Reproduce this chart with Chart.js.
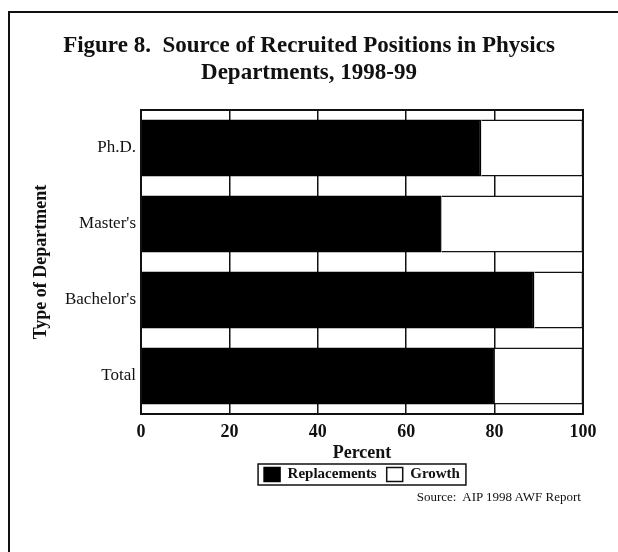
<!DOCTYPE html>
<html>
<head>
<meta charset="utf-8">
<script src="https://cdn.jsdelivr.net/npm/chart.js@4"></script>
<style>
    html, body { margin: 0; padding: 0; background: #fff; }
    #wrap { position: relative; width: 618px; height: 552px; overflow: hidden; }
    #frame {
        position: absolute; left: 8px; top: 11px; width: 640px; height: 600px;
        border-left: 2px solid #111; border-top: 2px solid #111;
    }
    #chart-box { position: absolute; left: 0; top: 0; width: 618px; height: 552px; }
    #source {
        position: absolute; right: 37px; top: 489px;
        font: 13px "Liberation Serif", serif; color: #111; white-space: pre;
    }
</style>
</head>
<body>
<div id="wrap">
    <div id="frame"></div>
    <div id="chart-box"><canvas id="chart"></canvas></div>
    <div id="source">Source:  AIP 1998 AWF Report</div>
</div>
<script>
const categories = ["Ph.D.", "Master's", "Bachelor's", "Total"];
const replacements = [77, 68, 89, 80];
const growth = [23, 32, 11, 20];
const xTicks = [0, 20, 40, 60, 80, 100];

// plot frame: top and right edges (Chart.js only draws the axis borders)
const frameBox = {
    id: 'frameBox',
    afterDatasetsDraw(chart) {
        const { ctx, chartArea: a } = chart;
        ctx.save();
        ctx.strokeStyle = '#111';
        ctx.lineWidth = 2;
        ctx.strokeRect(a.left, a.top, a.right - a.left, a.bottom - a.top);
        ctx.restore();
    }
};

// box drawn round the legend items
const legendBorder = {
    id: 'legendBorder',
    afterDraw(chart) {
        const boxes = chart.legend.legendHitBoxes;
        if (!boxes || !boxes.length) return;
        const first = boxes[0];
        const last = boxes[boxes.length - 1];
        const x0 = first.left - 6;
        const x1 = last.left + last.width + 6;
        const y0 = first.top - 3;
        const y1 = first.top + first.height + 3;
        const ctx = chart.ctx;
        ctx.save();
        ctx.strokeStyle = '#111';
        ctx.lineWidth = 1.5;
        ctx.strokeRect(x0, y0, x1 - x0, y1 - y0);
        ctx.restore();
    }
};

const ctx = document.getElementById('chart').getContext('2d');
new Chart(ctx, {
    type: 'bar',
    data: {
        labels: categories,
        datasets: [
            {
                label: 'Replacements',
                data: replacements,
                backgroundColor: '#000',
                borderColor: '#000',
                borderWidth: 1.5,
                barPercentage: 0.75,
                categoryPercentage: 1
            },
            {
                label: 'Growth',
                data: growth,
                backgroundColor: '#fff',
                borderColor: '#111',
                borderWidth: 1.5,
                barPercentage: 0.75,
                categoryPercentage: 1
            }
        ]
    },
    options: {
        indexAxis: 'y',
        responsive: true,
        maintainAspectRatio: false,
        animation: false,
        layout: { padding: { left: 35, right: 35, top: 0, bottom: 60 } },
        plugins: {
            title: {
                display: true,
                text: ['Figure 8.  Source of Recruited Positions in Physics', 'Departments, 1998-99'],
                color: '#111',
                font: { family: 'Liberation Serif', size: 23, weight: 'bold', lineHeight: 1.2 },
                padding: { top: 32, bottom: 22.8 }
            },
            legend: {
                position: 'bottom',
                fullSize: false,
                labels: {
                    color: '#111',
                    boxWidth: 16,
                    boxHeight: 14,
                    padding: 10,
                    font: { family: 'Liberation Serif', size: 15, weight: 'bold' }
                }
            },
            tooltip: { enabled: false }
        },
        scales: {
            x: {
                stacked: true,
                min: 0,
                max: 100,
                afterBuildTicks(scale) {
                    scale.ticks = xTicks.map(v => ({ value: v }));
                },
                afterFit(scale) { scale.height = 43; },
                grid: { color: '#111', lineWidth: 1.5, drawTicks: false },
                border: { color: '#111', width: 2 },
                ticks: {
                    color: '#111',
                    padding: 8,
                    font: { family: 'Liberation Serif', size: 18, weight: 'bold' }
                },
                title: {
                    display: true,
                    text: 'Percent',
                    color: '#111',
                    font: { family: 'Liberation Serif', size: 18, weight: 'bold' },
                    padding: { top: 0, bottom: -6.8 }
                }
            },
            y: {
                stacked: true,
                afterFit(scale) { scale.width = 106; },
                grid: { display: false, drawTicks: false },
                border: { color: '#111', width: 2 },
                ticks: {
                    color: '#111',
                    padding: 5,
                    font: { family: 'Liberation Serif', size: 17 }
                },
                title: {
                    display: true,
                    text: 'Type of Department',
                    color: '#111',
                    font: { family: 'Liberation Serif', size: 18, weight: 'bold' },
                    padding: { top: -4, bottom: 0 }
                }
            }
        }
    },
    plugins: [frameBox, legendBorder]
});
</script>
</body>
</html>
